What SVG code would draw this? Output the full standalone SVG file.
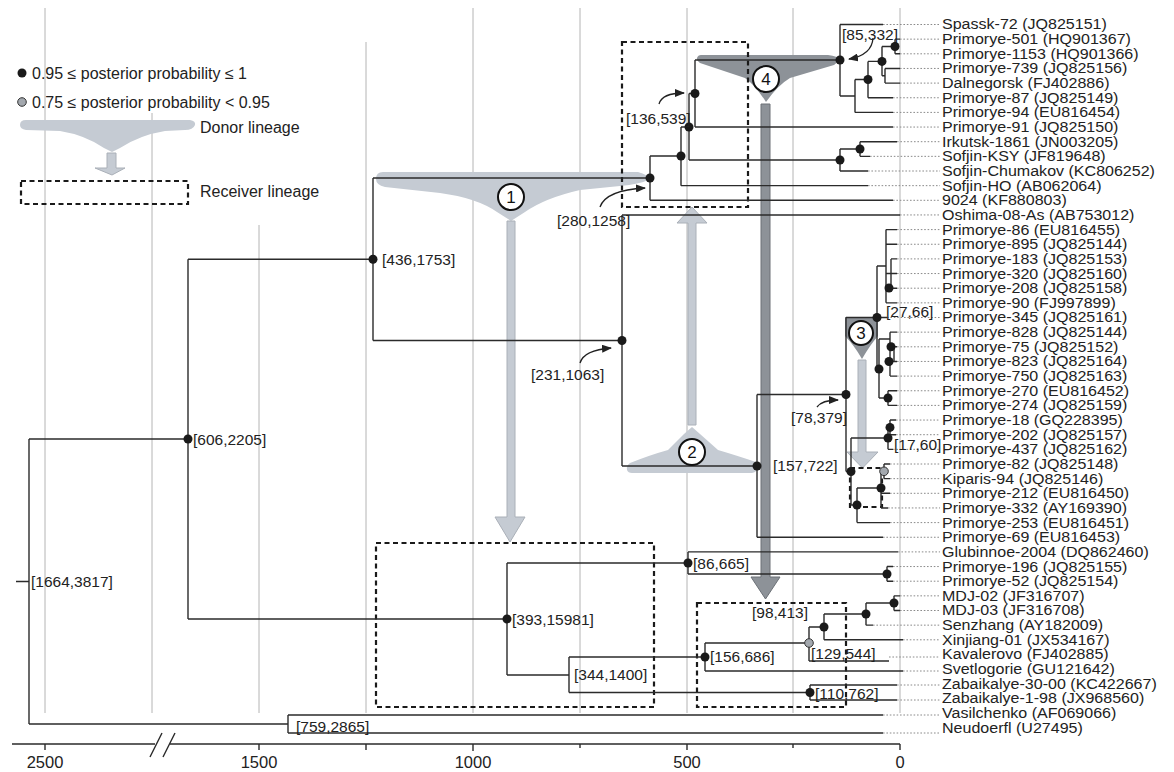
<svg xmlns="http://www.w3.org/2000/svg" width="1174" height="772" viewBox="0 0 1174 772">
<defs>
<style>
.grid{stroke:#b4b4b4;stroke-width:1;fill:none}
.br{stroke:#2b2b2b;stroke-width:1.4;fill:none}
.lead{stroke:#8a8a8a;stroke-width:1;stroke-dasharray:1.6 1.8;fill:none}
.tx{font-family:"Liberation Sans",Arial,sans-serif;font-size:16px;fill:#222}
.tt{font-family:"Liberation Sans",Arial,sans-serif;font-size:15px;fill:#222}
.lb{font-family:"Liberation Sans",Arial,sans-serif;font-size:15.5px;fill:#222}
.ax{font-family:"Liberation Sans",Arial,sans-serif;font-size:16.5px;fill:#222;text-anchor:middle}
.nm{font-family:"Liberation Sans",Arial,sans-serif;font-size:17px;fill:#111;text-anchor:middle}
.dot{fill:#1a1a1a}
.gdot{fill:#a3a8ae;stroke:#333;stroke-width:1}
.light{fill:#c5cbd3}
.lightar{fill:#c5cbd3;stroke:#aab0b8;stroke-width:1}
.dark{fill:#8d9298}
.darkar{fill:#8d9298;stroke:#6c7177;stroke-width:1}
.rcv{fill:none;stroke:#1a1a1a;stroke-width:2.2;stroke-dasharray:5 3.5}
.num{fill:#fff;stroke:#111;stroke-width:2}
.cur{fill:none;stroke:#222;stroke-width:1.3}
</style>
<marker id="ah" viewBox="0 0 10 8" refX="9" refY="4" markerWidth="10" markerHeight="8" markerUnits="userSpaceOnUse" orient="auto">
<path d="M0,0 L10,4 L0,8 Z" fill="#222"/>
</marker>
</defs>
<rect width="1174" height="772" fill="#fff"/>

<g id="grid">
<path class="grid" d="M45,8 V713 M152,113 V713 M259,225 V713 M366,42 V713 M473,8 V713 M580,8 V713 M687,8 V713 M793,8 V713 M900,8 V713"/>
</g>

<g id="axis">
<path class="br" stroke-width="1.6" d="M12,744 H900 M45,744 V750 M259,744 V750 M366,744 V750 M473,744 V751 M580,744 V748 M687,744 V750 M793,744 V748 M900,744 V750"/>
<rect x="155" y="739" width="15" height="10" fill="#fff"/>
<path class="br" stroke-width="1.6" d="M150,757 L162,733 M163,757 L175,733"/>
<text class="ax" x="45" y="768">2500</text>
<text class="ax" x="259" y="768">1500</text>
<text class="ax" x="473" y="768">1000</text>
<text class="ax" x="687" y="768">500</text>
<text class="ax" x="900" y="768">0</text>
</g>

<g id="legend">
<circle class="dot" cx="22" cy="73" r="4.5"/>
<text class="tx" x="32" y="79">0.95 &#8804; posterior probability &#8804; 1</text>
<circle class="gdot" cx="22" cy="102" r="4.3"/>
<text class="tx" x="32" y="108">0.75 &#8804; posterior probability &lt; 0.95</text>
<path class="light" d="M26,120 L190,120 Q196,121 195,125 Q193,130 185,130 L165,131 Q140,135 120,148 L112,152 L104,148 Q85,135 60,131 L26,130 Q20,129 20,125 Q20,120 26,120 Z"/>
<path class="lightar" d="M107,153 H116 V168 H125 L112,175 L95,168 H107 Z"/>
<text class="tx" x="200" y="133">Donor lineage</text>
<rect class="rcv" x="21" y="181" width="167" height="23"/>
<text class="tx" x="200" y="197">Receiver lineage</text>
</g>

<g id="transfers">
<path class="light" d="M383,172 L638,172 Q650,175 648,180 Q640,184 620,186 L580,190 Q545,198 525,212 L511,221 L497,212 Q477,198 440,193 L385,187 Q376,185 376,179 Q376,172 383,172 Z"/>
<path class="lightar" d="M507,221 H515 V517 H525 L510,542 L495,517 H507 Z"/>
<path class="light" d="M632,473 L752,473 Q758,472 757,466 L756,462 Q735,455 718,450 L700,434 L692,427 L684,434 L668,450 Q650,455 630,463 Q626,466 627,470 Q628,473 632,473 Z"/>
<path class="lightar" d="M688,425 V223 H677 L692,207 L707,223 H696 V425 Z"/>
<path class="dark" d="M701,55 L828,55 Q838,56 840,60 L834,65 L790,78 Q778,85 766,102 Q755,85 745,78 L700,63 Q696,60 697,58 Q698,55 701,55 Z"/>
<path class="darkar" d="M761,104 H770 V577 H780 L765.5,599 L751,577 H761 Z"/>
<path class="dark" d="M845,317 L878,317 L878,336 Q870,345 862,359 Q854,345 845,336 Z"/>
<path class="lightar" d="M858,360 H866 V452 H878 L862.5,468 L847,452 H858 Z"/>
<rect class="rcv" x="376" y="543" width="278" height="164"/>
<rect class="rcv" x="622" y="42" width="126" height="165"/>
<rect class="rcv" x="697" y="603" width="149" height="104"/>
<rect class="rcv" x="850" y="468" width="32" height="39"/>
</g>

<g id="connectors">
<path class="br" d="M16,581.5 H29 M29,439 V724 M29,439 H188 M29,724 H288
M288,715 V733 M288,715 H883 M288,733 H883
M188,259.25 V619 M188,259.25 H373 M188,619 H507
M373,178 V340.5 M373,178 H650 M373,340.5 H622
M650,156 V200.3 M650,156 H681 M650,200.3 H893
M681,127 V185.65 M681,127 H689 M681,185.65 H868
M689,93.5 V160 M689,93.5 H695 M689,160 H840
M695,60 V127 M695,60 H840 M695,127 H893
M840,24.5 V96 M840,24.5 H883 M840,96 H855
M855,79.5 V112.4 M855,79.5 H868 M855,112.4 H893
M868,61.4 V97.75 M868,61.4 H882 M868,97.75 H893
M882,46.5 V75.75 M882,46.5 H895 M882,75.75 H885
M895,39.15 V53.8 M895,39.15 H900 M895,53.8 H900
M885,68.45 V83.1 M885,68.45 H900 M885,83.1 H900
M840,149 V171 M840,149 H860 M840,171 H868
M860,141.7 V156.35 M860,141.7 H897 M860,156.35 H870
M622,215 V466 M622,215 H900 M622,466 H757
M757,394.5 V537.25 M757,394.5 H846 M757,537.25 H883
M846,317.5 V471.5 M846,317.5 H877 M846,471.5 H851
M851,438 V505 M851,438 H888 M851,505 H857
M888,427.4 V449.35 M888,427.4 H890 M888,449.35 H893
M890,420 V434.7 M890,420 H896 M890,434.7 H896
M857,488 V522.6 M857,488 H881 M857,522.6 H890
M881,471.3 V507.95 M881,471.3 H884 M881,493.3 H890 M881,507.95 H888
M884,464 V478.65 M884,464 H890 M884,478.65 H890
M877,266 V369 M877,266 H886 M877,317.5 H887 M877,369 H879
M886,229.6 V302.85 M886,229.6 H897 M886,244.25 H897 M886,273.55 H891 M886,302.85 H897
M891,258.9 V288.2 M891,258.9 H897 M891,273.55 H897 M891,288.2 H897
M879,339 V398 M879,339 H890 M879,398 H888
M890,332.15 V376.1 M890,332.15 H897 M890,346.8 H897 M890,361.45 H897 M890,376.1 H897 M894,346.8 V361.45
M888,390.75 V405.4 M888,390.75 H897 M888,405.4 H897
M507,563 V675 M507,563 H688 M507,675 H569
M688,551.9 V574 M688,551.9 H898 M688,574 H887
M887,566.55 V581.2 M887,566.55 H893 M887,581.2 H893
M569,657 V692.5 M569,657 H705 M569,692.5 H810
M705,643 V671 M705,643 H809 M705,671 H903
M809,627 V661 M809,627 H824 M809,661 H889
M824,614 V639.8 M824,614 H866 M824,639.8 H903
M866,603 V625.15 M866,603 H894 M866,625.15 H873
M894,595.85 V610.5 M894,595.85 H900 M894,610.5 H900
M810,685 V700 M810,685 H897 M810,700 H897"/>
<path class="lead" d="M883,24.5 H940 M900,39.15 H940 M900,53.8 H940 M900,68.45 H940 M900,83.1 H940 M893,97.75 H940 M893,112.4 H940 M893,127.05 H940 M897,141.7 H940 M870,156.35 H940 M868,171 H940 M868,185.65 H940 M893,200.3 H940 M900,214.95 H940
M897,229.6 H940 M897,244.25 H940 M897,258.9 H940 M897,273.55 H940 M897,288.2 H940 M897,302.85 H940 M887,317.5 H940 M897,332.15 H940 M897,346.8 H940 M897,361.45 H940 M897,376.1 H940 M897,390.75 H940 M897,405.4 H940 M896,420.05 H940 M896,434.7 H940 M893,449.35 H940
M890,464 H940 M890,478.65 H940 M890,493.3 H940 M888,507.95 H940 M890,522.6 H940 M883,537.25 H940 M898,551.9 H940 M893,566.55 H940 M893,581.2 H940 M900,595.85 H940 M900,610.5 H940 M873,625.15 H940 M903,639.8 H940 M889,657 H940 M903,671 H940 M897,685 H940 M897,700 H940 M883,715 H940 M883,733 H940"/>
<path class="cur" marker-end="url(#ah)" d="M659,104 Q662,93 684,93"/>
<path class="cur" marker-end="url(#ah)" d="M600,207 Q606,190 645,188"/>
<path class="cur" marker-end="url(#ah)" d="M580,363 Q584,350 611,348"/>
<path class="cur" marker-end="url(#ah)" d="M817,407 Q822,400 838,400"/>
<path class="cur" marker-end="url(#ah)" d="M873,38 Q872,55 849,59"/>
</g>

<g id="badges">
<circle class="num" cx="511" cy="197" r="13"/><text class="nm" x="511" y="203">1</text>
<circle class="num" cx="692" cy="452" r="13"/><text class="nm" x="692" y="458">2</text>
<circle class="num" cx="861" cy="333" r="12"/><text class="nm" x="861" y="339">3</text>
<circle class="num" cx="766" cy="79" r="13"/><text class="nm" x="766" y="85">4</text>
</g>

<g id="node-root"><text class="lb" x="31" y="586.5">[1664,3817]</text></g>
<g id="node-759"><text class="lb" x="296" y="731.5">[759,2865]</text></g>
<g id="node-606"><circle class="dot" cx="188" cy="439" r="4.5"/><text class="lb" x="193" y="444.5">[606,2205]</text></g>
<g id="node-436"><circle class="dot" cx="373" cy="259.25" r="4.5"/><text class="lb" x="382" y="264.5">[436,1753]</text></g>
<g id="node-280"><circle class="dot" cx="650" cy="178" r="4.5"/><text class="lb" x="557" y="225.5">[280,1258]</text></g>
<g id="node-681"><circle class="dot" cx="681" cy="156" r="4.5"/></g>
<g id="node-136"><circle class="dot" cx="689" cy="127" r="4.5"/><circle class="dot" cx="695" cy="93.5" r="4.5"/><text class="lb" x="626" y="123.5">[136,539]</text></g>
<g id="node-85"><circle class="dot" cx="840" cy="60" r="4.5"/><text class="lb" x="842" y="39.5">[85,332]</text></g>
<g id="node-a1"><circle class="dot" cx="868" cy="79.5" r="4.5"/><circle class="dot" cx="882" cy="61.4" r="4.5"/><circle class="dot" cx="895" cy="46.5" r="4.5"/></g>
<g id="node-a2"><circle class="dot" cx="840" cy="160" r="4.5"/><circle class="dot" cx="860" cy="149" r="4.5"/></g>
<g id="node-231"><circle class="dot" cx="622" cy="340.5" r="4.5"/><text class="lb" x="531" y="379.5">[231,1063]</text></g>
<g id="node-157"><circle class="dot" cx="757" cy="466" r="4.5"/><text class="lb" x="773" y="470.5">[157,722]</text></g>
<g id="node-78"><circle class="dot" cx="846" cy="394.5" r="4.5"/><text class="lb" x="791" y="422.5">[78,379]</text></g>
<g id="node-27"><circle class="dot" cx="877" cy="317.5" r="4.5"/><text class="lb" x="886" y="316.5">[27,66]</text></g>
<g id="node-b1"><circle class="dot" cx="889" cy="288" r="4.5"/><circle class="dot" cx="879" cy="369" r="4.5"/><circle class="dot" cx="891" cy="346.8" r="4.5"/><circle class="dot" cx="889" cy="361.45" r="4.5"/><circle class="dot" cx="888" cy="398" r="4.5"/></g>
<g id="node-17"><circle class="dot" cx="890" cy="427.4" r="4.5"/><circle class="dot" cx="888" cy="438" r="4.5"/><text class="lb" x="894" y="449.5">[17,60]</text></g>
<g id="node-b2"><circle class="dot" cx="851" cy="471.5" r="4.5"/><circle class="dot" cx="881" cy="488" r="4.5"/><circle class="dot" cx="857" cy="505" r="4.5"/><circle class="gdot" cx="884" cy="471.3" r="4.3"/></g>
<g id="node-393"><circle class="dot" cx="507" cy="619" r="4.5"/><text class="lb" x="512" y="624.5">[393,15981]</text></g>
<g id="node-86"><circle class="dot" cx="688" cy="563" r="4.5"/><text class="lb" x="693" y="568.5">[86,665]</text><circle class="dot" cx="887" cy="574" r="4.5"/></g>
<g id="node-344"><text class="lb" x="574" y="679.5">[344,1400]</text></g>
<g id="node-156"><circle class="dot" cx="705" cy="657" r="4.5"/><text class="lb" x="710" y="661.5">[156,686]</text></g>
<g id="node-98"><text class="lb" x="752" y="617.5">[98,413]</text></g>
<g id="node-129"><circle class="gdot" cx="809" cy="643" r="4.3"/><text class="lb" x="811" y="658.5">[129,544]</text><circle class="dot" cx="824" cy="627" r="4.5"/><circle class="dot" cx="866" cy="614" r="4.5"/><circle class="dot" cx="894" cy="603" r="4.5"/></g>
<g id="node-110"><circle class="dot" cx="810" cy="692.5" r="4.5"/><text class="lb" x="815" y="698.5">[110,762]</text></g>

<g id="taxa" class="tt" transform="translate(942,0) scale(1.07,1)">
<text x="0" y="29.5">Spassk-72 (JQ825151)</text>
<text x="0" y="44.2">Primorye-501 (HQ901367)</text>
<text x="0" y="58.8">Primorye-1153 (HQ901366)</text>
<text x="0" y="73.5">Primorye-739 (JQ825156)</text>
<text x="0" y="88.1">Dalnegorsk (FJ402886)</text>
<text x="0" y="102.8">Primorye-87 (JQ825149)</text>
<text x="0" y="117.4">Primorye-94 (EU816454)</text>
<text x="0" y="132.1">Primorye-91 (JQ825150)</text>
<text x="0" y="146.7">Irkutsk-1861 (JN003205)</text>
<text x="0" y="161.4">Sofjin-KSY (JF819648)</text>
<text x="0" y="176">Sofjin-Chumakov (KC806252)</text>
<text x="0" y="190.7">Sofjin-HO (AB062064)</text>
<text x="0" y="205.3">9024 (KF880803)</text>
<text x="0" y="220">Oshima-08-As (AB753012)</text>
<text x="0" y="234.6">Primorye-86 (EU816455)</text>
<text x="0" y="249.3">Primorye-895 (JQ825144)</text>
<text x="0" y="263.9">Primorye-183 (JQ825153)</text>
<text x="0" y="278.6">Primorye-320 (JQ825160)</text>
<text x="0" y="293.2">Primorye-208 (JQ825158)</text>
<text x="0" y="307.9">Primorye-90 (FJ997899)</text>
<text x="0" y="322.5">Primorye-345 (JQ825161)</text>
<text x="0" y="337.2">Primorye-828 (JQ825144)</text>
<text x="0" y="351.8">Primorye-75 (JQ825152)</text>
<text x="0" y="366.5">Primorye-823 (JQ825164)</text>
<text x="0" y="381.1">Primorye-750 (JQ825163)</text>
<text x="0" y="395.8">Primorye-270 (EU816452)</text>
<text x="0" y="410.4">Primorye-274 (JQ825159)</text>
<text x="0" y="425.1">Primorye-18 (GQ228395)</text>
<text x="0" y="439.7">Primorye-202 (JQ825157)</text>
<text x="0" y="454.4">Primorye-437 (JQ825162)</text>
<text x="0" y="469">Primorye-82 (JQ825148)</text>
<text x="0" y="483.7">Kiparis-94 (JQ825146)</text>
<text x="0" y="498.3">Primorye-212 (EU816450)</text>
<text x="0" y="513">Primorye-332 (AY169390)</text>
<text x="0" y="527.6">Primorye-253 (EU816451)</text>
<text x="0" y="542.3">Primorye-69 (EU816453)</text>
<text x="0" y="556.9">Glubinnoe-2004 (DQ862460)</text>
<text x="0" y="571.6">Primorye-196 (JQ825155)</text>
<text x="0" y="586.2">Primorye-52 (JQ825154)</text>
<text x="0" y="600.9">MDJ-02 (JF316707)</text>
<text x="0" y="615.5">MDJ-03 (JF316708)</text>
<text x="0" y="630.2">Senzhang (AY182009)</text>
<text x="0" y="644.8">Xinjiang-01 (JX534167)</text>
<text x="0" y="659.5">Kavalerovo (FJ402885)</text>
<text x="0" y="674.1">Svetlogorie (GU121642)</text>
<text x="0" y="688.8">Zabaikalye-30-00 (KC422667)</text>
<text x="0" y="703.4">Zabaikalye-1-98 (JX968560)</text>
<text x="0" y="718.1">Vasilchenko (AF069066)</text>
<text x="0" y="732.7">Neudoerfl (U27495)</text>
</g>
</svg>
